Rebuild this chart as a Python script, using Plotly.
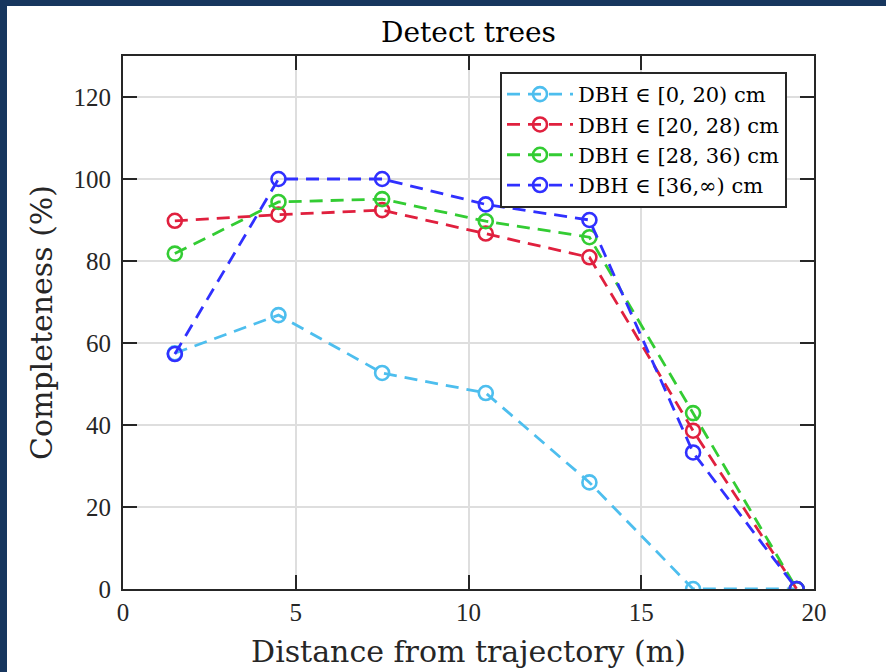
import plotly.graph_objects as go

distance = [1.5, 4.5, 7.5, 10.5, 13.5, 16.5, 19.5]
dbh_0_20 = [57.5, 66.8, 52.7, 47.8, 26.0, 0.0, 0.0]
dbh_20_28 = [89.8, 91.3, 92.4, 86.7, 80.9, 38.6, 0.0]
dbh_28_36 = [81.8, 94.4, 95.1, 89.7, 85.8, 42.9, 0.0]
dbh_36_inf = [57.3, 100.0, 100.0, 93.8, 90.0, 33.3, 0.0]

series_names = ["DBH ∈ [0, 20) cm", "DBH ∈ [20, 28) cm", "DBH ∈ [28, 36) cm", "DBH ∈ [36,∞) cm"]
series_values = [dbh_0_20, dbh_20_28, dbh_28_36, dbh_36_inf]
colors = ["#4DBEEE", "#E0203E", "#33CC33", "#3030FF"]

x_ticks = [0, 5, 10, 15, 20]
y_ticks = [0, 20, 40, 60, 80, 100, 120]

FONT = "DejaVu Serif"
NUMFONT = "Liberation Serif"

fig = go.Figure()
for i, (name, vals, col) in enumerate(zip(series_names, series_values, colors)):
    fig.add_trace(go.Scatter(
        x=distance, y=vals, name=name, mode="lines+markers", legendgroup=f"g{i}",
        line=dict(color=col, width=2.8, dash="13px,8px"),
        marker=dict(symbol="circle-open", size=14, color=col, line=dict(width=2.6, color=col)),
    ))

axis_common = dict(
    showline=True, linecolor="#262626", linewidth=2, automargin=False,
    mirror="ticks", ticks="inside", ticklen=14, tickwidth=2, tickcolor="#262626",
    showgrid=True, gridcolor="#dedede", gridwidth=1.5, zeroline=False,
    tickfont=dict(family=NUMFONT, size=25, color="#262626"),
)

fig.update_layout(
    width=886, height=672,
    paper_bgcolor="#17365E", plot_bgcolor="white",
    margin=dict(l=123, r=72, t=56, b=83),
    title=dict(text="Detect trees", x=0.5, xref="paper", xanchor="center",
               y=1 - 32 / 672, yanchor="middle",
               font=dict(family=FONT, size=28, color="black")),
    xaxis=dict(range=[0, 20], tickvals=x_ticks,
               title=dict(text="Distance from trajectory (m)", standoff=16,
                          font=dict(family=FONT, size=30, color="#262626")),
               **axis_common),
    yaxis=dict(range=[0, 130], tickvals=y_ticks, ticklabelstandoff=5,
               title=dict(text="Completeness (%)", standoff=12,
                          font=dict(family=FONT, size=30, color="#262626")),
               **axis_common),
    legend=dict(x=(500 - 123) / 691, y=1 - (72 - 56) / 533, xanchor="left", yanchor="top",
                bgcolor="white", bordercolor="#262626", borderwidth=2,
                font=dict(family=FONT, size=21, color="black"),
                tracegroupgap=0, itemwidth=66),
    showlegend=True,
)

fig.add_shape(type="rect", xref="paper", yref="paper",
              x0=-116 / 691, x1=1 + 72 / 691, y0=-83 / 533, y1=1 + 50 / 533,
              fillcolor="white", line=dict(width=0), layer="below")

fig.write_html("out.html", config={"displayModeBar": False})

with open("out.html", "r", encoding="utf-8") as f:
    html = f.read()
html = html.replace("<body>", '<body style="margin:0;padding:0;overflow:hidden">', 1)
with open("out.html", "w", encoding="utf-8") as f:
    f.write(html)
